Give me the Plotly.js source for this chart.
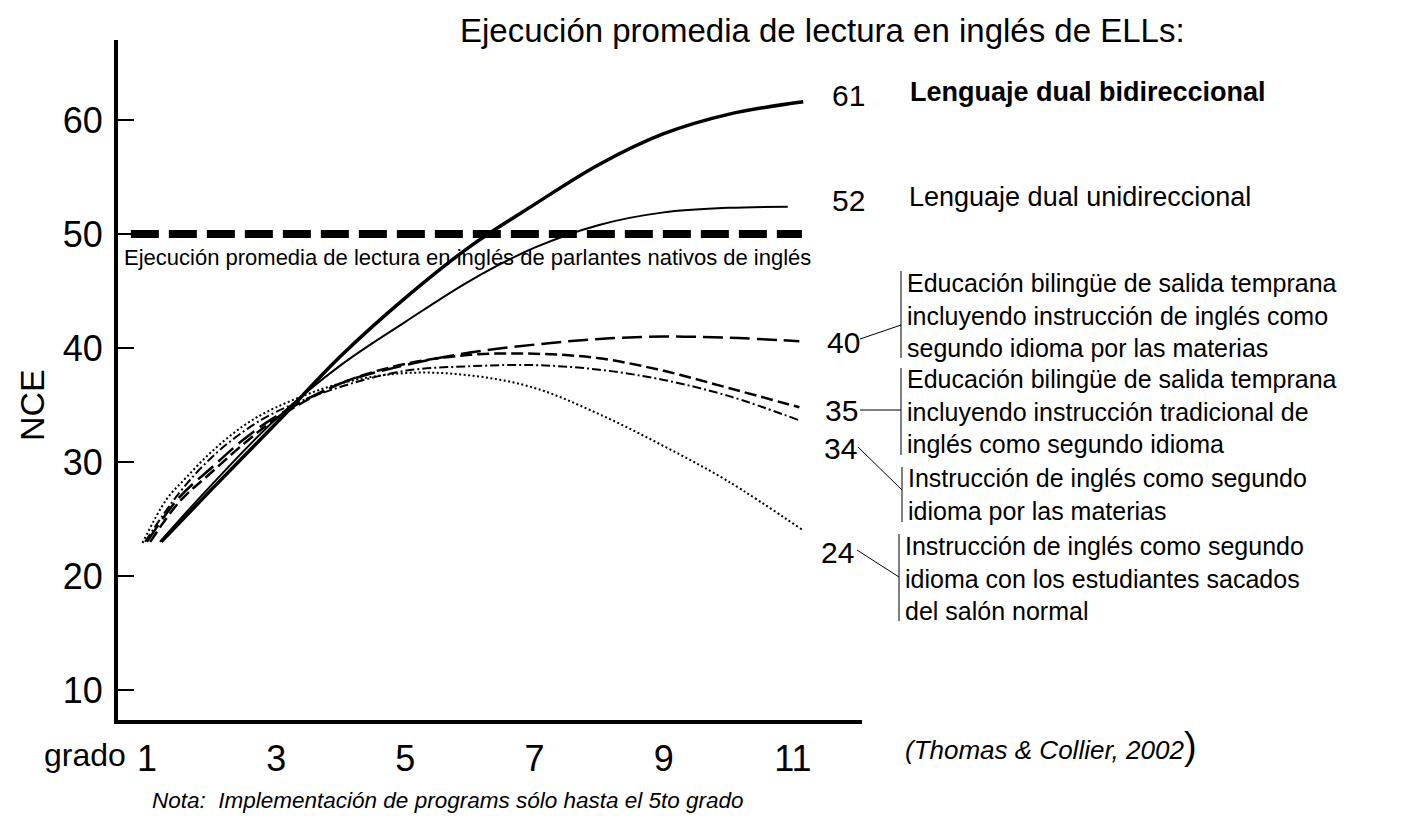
<!DOCTYPE html>
<html>
<head>
<meta charset="utf-8">
<script src="https://cdn.plot.ly/plotly-3.0.1.min.js"></script>
<style>html,body{margin:0;padding:0;background:#fff;}#chart{width:1401px;height:827px;}</style>
</head>
<body>
<div id="chart"></div>
<script>
// ---- data ----
const gradeTicks = [1, 3, 5, 7, 9, 11];
const nceTicks = [10, 20, 30, 40, 50, 60];

const xBidir = [1.22, 2, 3, 4, 5, 6, 7, 8, 9, 10, 11.16];
const yBidir = [23.0, 27.6, 33.4, 39.3, 44.4, 48.9, 52.6, 56.1, 58.8, 60.5, 61.6];

const xUnidir = [1.2, 2, 3, 4, 5, 6, 7, 8, 9, 10, 10.92];
const yUnidir = [23.0, 28.0, 33.8, 38.5, 42.3, 45.9, 48.8, 50.8, 51.9, 52.3, 52.4];

const xEarlyContent = [1.0, 1.5, 2, 2.5, 3, 4, 5, 6, 7, 8, 9, 10, 11.1];
const yEarlyContent = [23.0, 26.9, 29.5, 32.0, 34.0, 36.9, 38.5, 39.6, 40.3, 40.8, 41.0, 40.9, 40.6];

const xEarlyTrad = [1.05, 1.5, 2, 2.5, 3, 4, 5, 6, 7, 8, 9, 10, 11.1];
const yEarlyTrad = [23.0, 26.5, 29.1, 31.6, 33.8, 36.9, 38.6, 39.4, 39.5, 39.1, 38.0, 36.5, 34.8];

const xEslContent = [0.97, 1.5, 2, 2.5, 3, 4, 5, 6, 7, 8, 9, 10, 11.08];
const yEslContent = [23.0, 27.3, 30.4, 32.7, 34.4, 36.6, 38.0, 38.4, 38.5, 38.1, 37.2, 35.8, 33.7];

const xPullout = [0.93, 1.3, 1.6, 2, 2.5, 3, 4, 5, 6, 7, 8, 9, 10, 11.16];
const yPullout = [22.9, 26.7, 28.6, 30.9, 33.2, 34.8, 36.9, 37.8, 37.6, 36.5, 34.2, 31.4, 28.3, 24.0];

const xNative = [0.75, 11.14];
const yNative = [50, 50];

const endValues = ["61", "52", "40", "35", "34", "24"];
const titleText = "Ejecución promedia de lectura en inglés de ELLs:";
const nativeText = "Ejecución promedia de lectura en inglés de parlantes nativos de inglés";
const labelBidir = "Lenguaje dual bidireccional";
const labelUnidir = "Lenguaje dual unidireccional";
const labelEarlyContent = ["Educación bilingüe de salida temprana", "incluyendo instrucción de inglés como", "segundo idioma por las materias"];
const labelEarlyTrad = ["Educación bilingüe de salida temprana", "incluyendo instrucción tradicional de", "inglés como segundo idioma"];
const labelEslContent = ["Instrucción de inglés como segundo", "idioma por las materias"];
const labelPullout = ["Instrucción de inglés como segundo", "idioma con los estudiantes sacados", "del salón normal"];
const sourceText = "(Thomas & Collier, 2002";
const noteText = "Nota:  Implementación de programs sólo hasta el 5to grado";

// ---- layout helpers (pixel -> paper) ----
const L = 118, T = 40, W = 744, H = 680;
const px = x => (x - L) / W;
const py = y => (T + H - y) / H;
const FONT = "Liberation Sans, Arial, sans-serif";

const base = {mode: "lines", hoverinfo: "skip", showlegend: false, cliponaxis: false};
const traces = [
  Object.assign({}, base, {x: xNative, y: yNative, line: {color: "#000", width: 8, dash: "28px,10px"}}),
  Object.assign({}, base, {x: xPullout, y: yPullout, line: {color: "#000", width: 2, dash: "2px,2.5px", shape: "spline"}}),
  Object.assign({}, base, {x: xEslContent, y: yEslContent, line: {color: "#000", width: 2, dash: "9px,3px,2px,3px", shape: "spline"}}),
  Object.assign({}, base, {x: xEarlyTrad, y: yEarlyTrad, line: {color: "#000", width: 2.5, dash: "12px,5px", shape: "spline"}}),
  Object.assign({}, base, {x: xEarlyContent, y: yEarlyContent, line: {color: "#000", width: 2.5, dash: "20px,7px", shape: "spline"}}),
  Object.assign({}, base, {x: xUnidir, y: yUnidir, line: {color: "#000", width: 2, shape: "spline"}}),
  Object.assign({}, base, {x: xBidir, y: yBidir, line: {color: "#000", width: 3.5, shape: "spline"}})
];

const ann = [];
function txt(text, x, y, size, opts) {
  ann.push(Object.assign({text: text, xref: "paper", yref: "paper", x: px(x), y: py(y),
    xanchor: "left", yanchor: "middle", align: "left", showarrow: false,
    font: {family: FONT, size: size, color: "#000"}}, opts || {}));
}
// title
txt(titleText, 822, 30, 33, {xanchor: "center"});
// y title
txt("NCE", 32, 405, 34, {xanchor: "center", textangle: -90});
// grado
txt("grado", 128, 755, 32, {xanchor: "right"});
// native label
txt(nativeText, 122, 257, 22);
// end values
const endPos = [[848, 95], [848, 200], [843, 342], [841, 410], [840, 448], [837, 552]];
endValues.forEach((v, i) => txt(v, endPos[i][0], endPos[i][1], 30, {xanchor: "center"}));
// labels
txt("<b>" + labelBidir + "</b>", 908, 92, 27);
txt(labelUnidir, 907, 197, 27);
txt(labelEarlyContent.join("<br>"), 905, 315, 25);
txt(labelEarlyTrad.join("<br>"), 905, 411, 25);
txt(labelEslContent.join("<br>"), 906, 494, 25);
txt(labelPullout.join("<br>"), 903, 578, 25);
// source and note
txt("<i>" + sourceText + "</i><span style=\"font-size:38px\">)</span>", 903, 746, 26);
txt("<i>" + noteText + "</i>", 150, 800, 22.5);

const shapes = [];
function seg(x0, y0, x1, y1, w) {
  shapes.push({type: "line", xref: "paper", yref: "paper", x0: px(x0), y0: py(y0), x1: px(x1), y1: py(y1),
    line: {color: "#000", width: w || 1}});
}
// brackets
seg(901, 271, 901, 358); seg(860, 339, 901, 325);
seg(901, 368, 901, 455); seg(860, 410, 901, 410);
seg(902, 467, 902, 522); seg(858, 447, 902, 490);
seg(899, 534, 899, 621); seg(857, 550, 899, 577);

const layout = {
  width: 1401, height: 827,
  margin: {l: L, r: 1401 - L - W, t: T, b: 827 - T - H, pad: 0},
  paper_bgcolor: "#fff", plot_bgcolor: "#fff",
  font: {family: FONT, color: "#000"},
  showlegend: false,
  xaxis: {range: [0.551, 12.07], tickvals: gradeTicks, ticktext: gradeTicks.map(String),
    ticks: "", showgrid: false, zeroline: false, showline: true, linewidth: 4, linecolor: "#000",
    tickfont: {family: FONT, size: 36}, ticklabelstandoff: 4, fixedrange: true},
  yaxis: {range: [7.37, 67.02], tickvals: nceTicks, ticktext: nceTicks.map(String),
    ticks: "inside", ticklen: 16, tickwidth: 2, tickcolor: "#000",
    showgrid: false, zeroline: false, showline: true, linewidth: 4, linecolor: "#000",
    tickfont: {family: FONT, size: 36}, ticklabelstandoff: 4, fixedrange: true},
  annotations: ann,
  shapes: shapes
};
Plotly.newPlot("chart", traces, layout, {staticPlot: true, displayModeBar: false});
</script>
</body>
</html>
